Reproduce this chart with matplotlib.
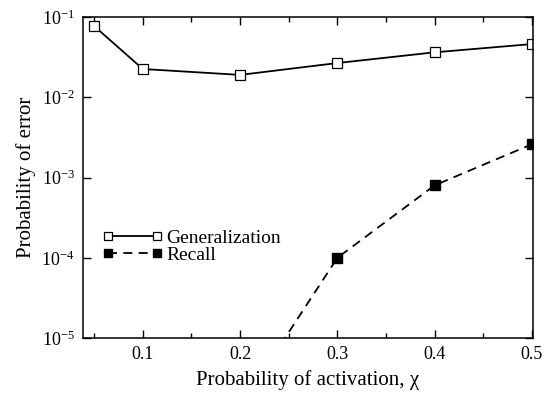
import numpy as np
import matplotlib
matplotlib.use("Agg")
import matplotlib.pyplot as plt
from matplotlib.ticker import MultipleLocator, LogLocator, LogFormatterMathtext, NullLocator

# data
chi_gen = [0.05, 0.1, 0.2, 0.3, 0.4, 0.5]
err_gen = [0.077, 0.0225, 0.019, 0.0267, 0.0363, 0.046]
chi_rec = [0.2, 0.3, 0.4, 0.5]
err_rec = [1.4e-6, 1.0e-4, 8.0e-4, 2.6e-3]

plt.rcParams['font.family'] = ['Liberation Serif', 'DejaVu Serif']
plt.rcParams['mathtext.fontset'] = 'stix'

fig = plt.figure(figsize=(5.46, 3.95), dpi=100)
ax = fig.add_axes([0.152, 0.144, 0.824, 0.813])

ax.plot(chi_gen, err_gen, color='black', lw=1.3, marker='s', ms=6.5,
        mfc='white', mec='black', mew=0.9, label='Generalization')
ax.plot(chi_rec, err_rec, color='black', lw=1.3, ls=(0, (5, 3.5)), marker='s', ms=7,
        mfc='black', mec='black', label='Recall')

ax.set_yscale('log')
ax.set_xlim(0.0385, 0.501)
ax.set_ylim(1e-5, 1e-1)

ax.xaxis.set_major_locator(MultipleLocator(0.1))
ax.xaxis.set_minor_locator(MultipleLocator(0.05))
ax.yaxis.set_major_locator(LogLocator(base=10, numticks=10))
ax.yaxis.set_major_formatter(LogFormatterMathtext())
ax.yaxis.set_minor_locator(NullLocator())
ax.set_xticks([0.1, 0.2, 0.3, 0.4, 0.5])
ax.set_xticklabels(['0.1', '0.2', '0.3', '0.4', '0.5'])

ax.tick_params(which='both', direction='in', top=True, right=True, labelsize=13, width=1)
ax.tick_params(which='major', length=6, pad=6)
ax.tick_params(which='minor', length=3.5)
for s in ax.spines.values():
    s.set_linewidth(1.1)

ax.set_xlabel('Probability of activation, χ', fontsize=15, labelpad=5)
ax.set_ylabel('Probability of error', fontsize=15, labelpad=4)

ax.legend(loc='upper left', bbox_to_anchor=(0.043, 0.34), frameon=False, fontsize=14,
          numpoints=2, handlelength=3.1, handletextpad=0.2, labelspacing=0.0,
          borderpad=0, borderaxespad=0, markerscale=0.8)

fig.savefig('out.png', dpi=100)
